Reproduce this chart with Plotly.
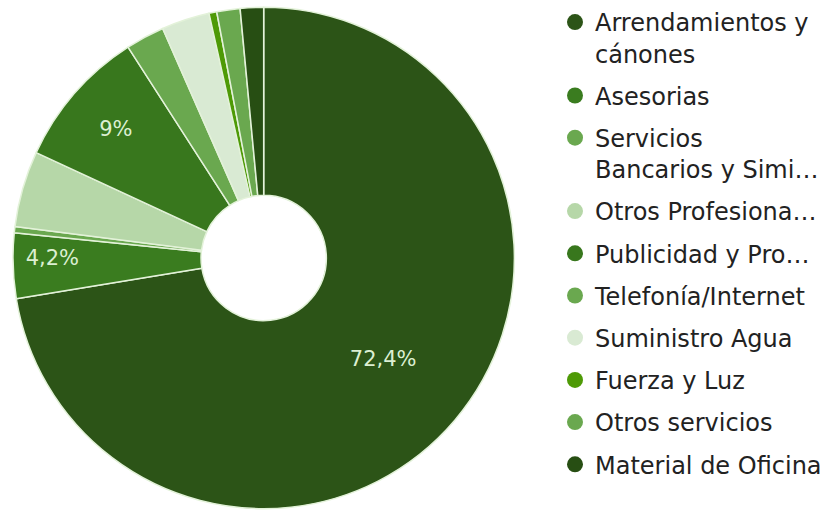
import plotly.graph_objects as go

categories = [
    "Arrendamientos y<br>cánones",
    "Asesorias",
    "Servicios<br>Bancarios y Simi…",
    "Otros Profesiona…",
    "Publicidad y Pro…",
    "Telefonía/Internet",
    "Suministro Agua",
    "Fuerza y Luz",
    "Otros servicios",
    "Material de Oficina",
]
values = [72.4, 4.2, 0.4, 4.9, 9.0, 2.5, 3.1, 0.5, 1.5, 1.5]
slice_text = ["72,4%", "4,2%", "", "", "9%", "", "", "", "", ""]
colors = [
    "#2c5417", "#3a7c1f", "#6aa84f", "#b6d7a8", "#38771d",
    "#6aa84f", "#d9ead3", "#4e9a06", "#6aa84f", "#274e13",
]

W, H = 827, 512
cx, cy, R = 264, 258, 251

fig = go.Figure()
fig.add_trace(go.Pie(
    labels=categories,
    values=values,
    text=slice_text,
    textinfo="text",
    texttemplate="%{text}",
    textposition="inside",
    insidetextorientation="horizontal",
    textfont=dict(family="DejaVu Sans", size=21, color="#dcefd2"),
    marker=dict(colors=colors, line=dict(color="#e3f2d9", width=1.5)),
    sort=False,
    direction="clockwise",
    rotation=0,
    hole=0.25,
    showlegend=False,
    domain=dict(x=[(cx - R) / W, (cx + R) / W],
                y=[(H - cy - R) / H, (H - cy + R) / H]),
    hoverinfo="label+percent",
))

for i, (name, col) in enumerate(zip(categories, colors)):
    fig.add_trace(go.Scatter(
        x=[None], y=[None], mode="markers",
        marker=dict(symbol="circle", size=22, color=col),
        name=name, legendgroup=f"g{i}", showlegend=True,
        hoverinfo="skip",
    ))

fig.update_layout(
    width=W, height=H,
    margin=dict(l=0, r=0, t=0, b=0),
    paper_bgcolor="white",
    plot_bgcolor="white",
    xaxis=dict(visible=False),
    yaxis=dict(visible=False),
    legend=dict(
        x=556 / W, y=1, xanchor="left", yanchor="top",
        font=dict(family="DejaVu Sans", size=24, color="#222222"),
        valign="top",
        tracegroupgap=8,
        bgcolor="rgba(0,0,0,0)",
        traceorder="grouped",
    ),
)

fig.write_html("out.html")
